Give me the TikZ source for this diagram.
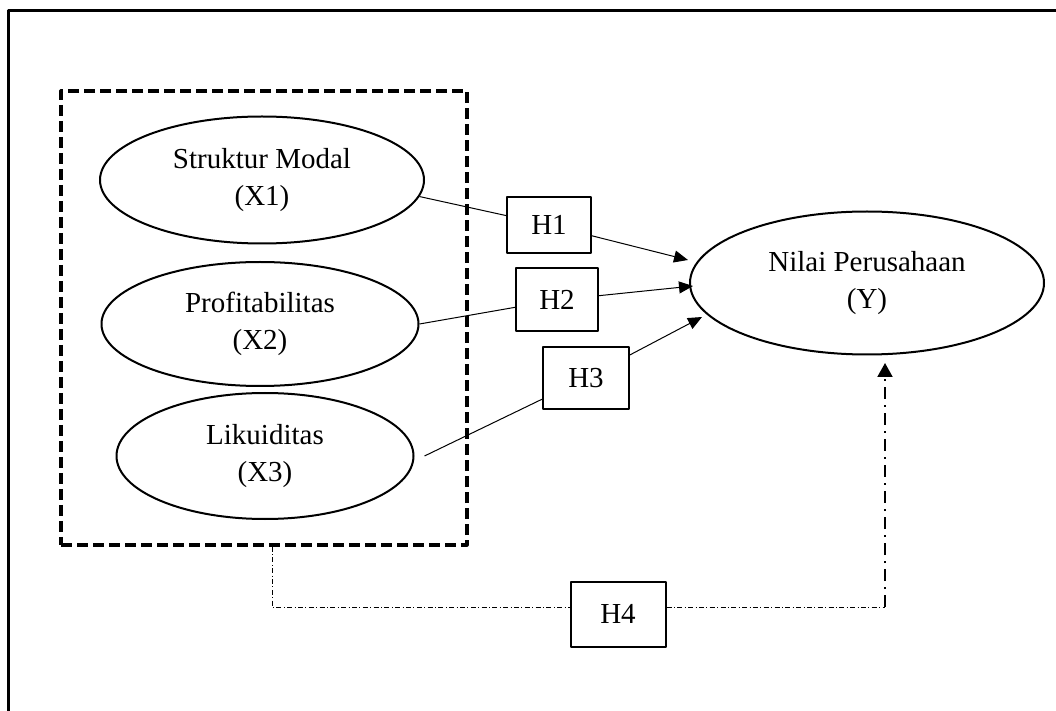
\documentclass[tikz,border=0pt]{standalone}
\usepackage{fontspec}
\setmainfont{Liberation Serif}
\usetikzlibrary{shapes.geometric,arrows.meta}
\begin{document}
\begin{tikzpicture}[x=0.5pt,y=-0.5pt,line join=round,>={Triangle[length=7pt,width=6pt]},
	var/.style={draw,ellipse,line width=1pt,inner sep=0pt,align=center,font=\fontsize{14.5}{18.5}\selectfont},
	hbox/.style={draw,line width=1pt,inner sep=0pt,font=\fontsize{14.5}{18.5}\selectfont},
	grpbox/.style={draw,line width=1.6pt,dash pattern=on 5.5pt off 2.5pt},
	link/.style={line width=0.5pt},
	dd/.style={line width=0.5pt,dash pattern=on 2.5pt off 1.2pt on 0.5pt off 1.2pt},
	ddthick/.style={line width=1pt,dash pattern=on 6pt off 3pt on 1pt off 3pt}]
	\useasboundingbox (0,0) rectangle (1056,711);
	% frame
	\draw[line width=1.4pt] (8.5,711) |- (1056,10.5);
	\node[grpbox,minimum width=203pt,minimum height=227pt] (grp) at (264,318) {};
	% variables
	\node[var,minimum width=162pt,minimum height=63.5pt] (X1) at (262,180) {Struktur Modal\\(X1)};
	\node[var,minimum width=158.5pt,minimum height=62pt] (X2) at (260,324) {Profitabilitas\\(X2)};
	\node[var,minimum width=148.5pt,minimum height=63pt] (X3) at (265,456) {Likuiditas\\(X3)};
	\node[var,minimum width=177pt,minimum height=71.5pt] (Y) at (867,283) {Nilai Perusahaan\\(Y)};
	% hypotheses
	\node[hbox,minimum width=42pt,minimum height=28pt] (H1) at (549,225) {H1};
	\node[hbox,minimum width=41pt,minimum height=31.5pt] (H2) at (557,300) {H2};
	\node[hbox,minimum width=43pt,minimum height=31pt] (H3) at (586,378) {H3};
	\node[hbox,minimum width=47.5pt,minimum height=32.5pt] (H4) at (618,614) {H4};
	\path
	(X1.-6) coordinate (s1)
	(X2.east) coordinate (s2)
	([xshift=5pt]X3.east) coordinate (s3)
	(688,260) coordinate (t1)
	(693,286) coordinate (t2)
	(702,317) coordinate (t3)
	(885,363) coordinate (t4)
	(272,607) coordinate (c4)
	(885,607) coordinate (c5)
	;
	\foreach \i in {1,2,3}
	{\draw[link] (s\i) -- (H\i);
	 \draw[link,->] (H\i) -- (t\i);}
	\draw[dd] (grp.south -| c4) |- ([yshift=3.5pt]H4.west);
	\draw[dd] ([yshift=3.5pt]H4.east) -- (c5);
	\draw[ddthick,-{Triangle[length=7pt,width=7.5pt]}] (c5) -- (t4);
\end{tikzpicture}
\end{document}
